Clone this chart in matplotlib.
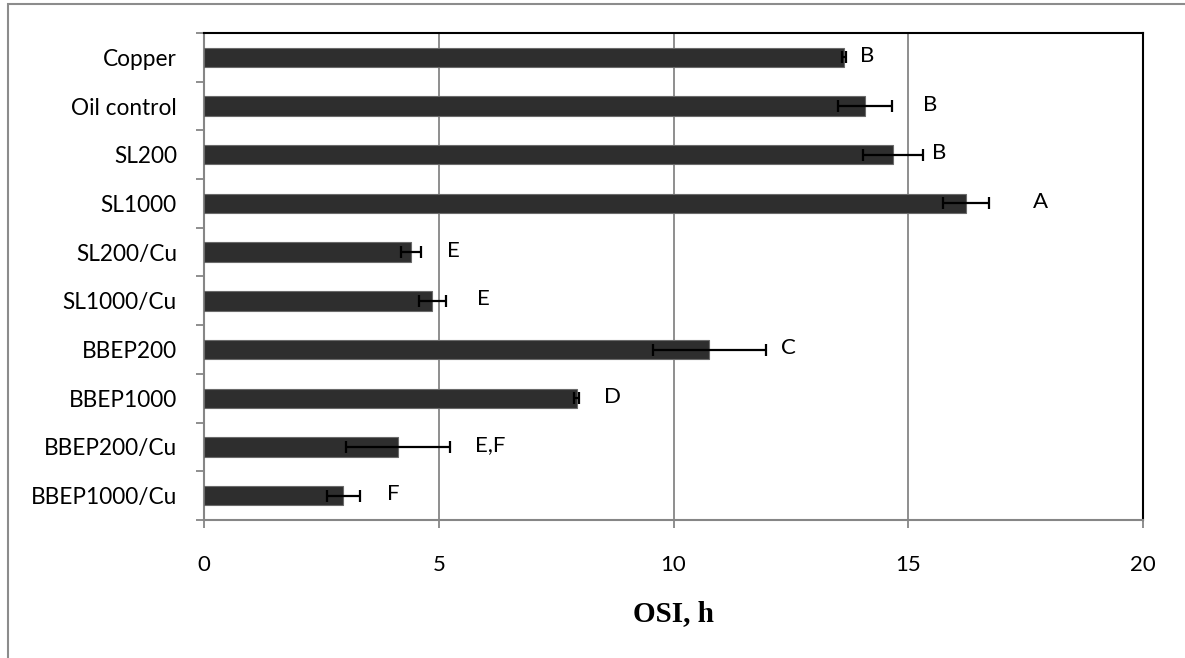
import matplotlib
matplotlib.use("Agg")
import matplotlib.pyplot as plt
from matplotlib.patches import Rectangle
import numpy as np

categories = ["Copper", "Oil control", "SL200", "SL1000", "SL200/Cu", "SL1000/Cu",
              "BBEP200", "BBEP1000", "BBEP200/Cu", "BBEP1000/Cu"]
osi = [13.63, 14.08, 14.68, 16.22, 4.41, 4.86, 10.76, 7.94, 4.13, 2.97]
osi_err = [0.05, 0.57, 0.64, 0.49, 0.22, 0.29, 1.20, 0.05, 1.10, 0.35]
letters = ["B", "B", "B", "A", "E", "E", "C", "D", "E,F", "F"]
letter_x = [14.12, 15.46, 15.65, 17.82, 5.32, 5.94, 12.44, 8.71, 6.09, 4.03]
x_ticks = [0, 5, 10, 15, 20]

W, H = 1185, 658
fig = plt.figure(figsize=(W / 100, H / 100), dpi=100)
font = ["Lato", "DejaVu Sans"]

# outer chart border (partially cropped)
fig.patches.append(Rectangle((8 / W, -0.2), 1.5, 0.2 + (H - 4) / H, transform=fig.transFigure,
                             fill=False, edgecolor="#8c8c8c", linewidth=1.5))

ax = fig.add_axes([204 / W, 1 - 520 / H, (1143 - 204) / W, (520 - 33) / H])

y = np.arange(len(categories))
ax.barh(y, osi, height=0.4, color="#2e2e2e", edgecolor="#6a6a6a", linewidth=0.8, zorder=3)
ax.errorbar(osi, y, xerr=osi_err, fmt="none", ecolor="black", elinewidth=1.6,
            capsize=4.5, capthick=1.6, zorder=4)
for yi, lx, lt in zip(y, letter_x, letters):
    ax.text(lx, yi - 0.03, lt, ha="center", va="center", fontsize=16, family=font, zorder=5)

ax.set_xlim(0, 20)
ax.set_ylim(len(categories) - 0.5, -0.5)
ax.set_xticks(x_ticks)
ax.set_xticklabels([str(t) for t in x_ticks], fontsize=16, family=font)
ax.set_yticks(y)
ax.set_yticklabels(categories, fontsize=16.3, family=font)
ax.set_yticks(np.arange(-0.5, len(categories), 1), minor=True)
ax.tick_params(axis="y", which="major", length=0, pad=19.5)
ax.tick_params(axis="y", which="minor", length=6, width=1.3, color="#868686", direction="out")
ax.tick_params(axis="x", which="major", length=6, width=1.3, color="#868686", direction="out", pad=19)

ax.xaxis.grid(True, color="#868686", linewidth=1.3, zorder=0)
ax.set_axisbelow(True)
for s in ["left", "bottom"]:
    ax.spines[s].set_color("#868686")
    ax.spines[s].set_linewidth(1.5)
for s in ["top", "right"]:
    ax.spines[s].set_color("black")
    ax.spines[s].set_linewidth(1.5)

ax.set_xlabel("OSI, h", fontsize=21, fontweight="bold", family=["Liberation Serif", "DejaVu Serif"],
              labelpad=18)

fig.savefig("out.png", dpi=100)
